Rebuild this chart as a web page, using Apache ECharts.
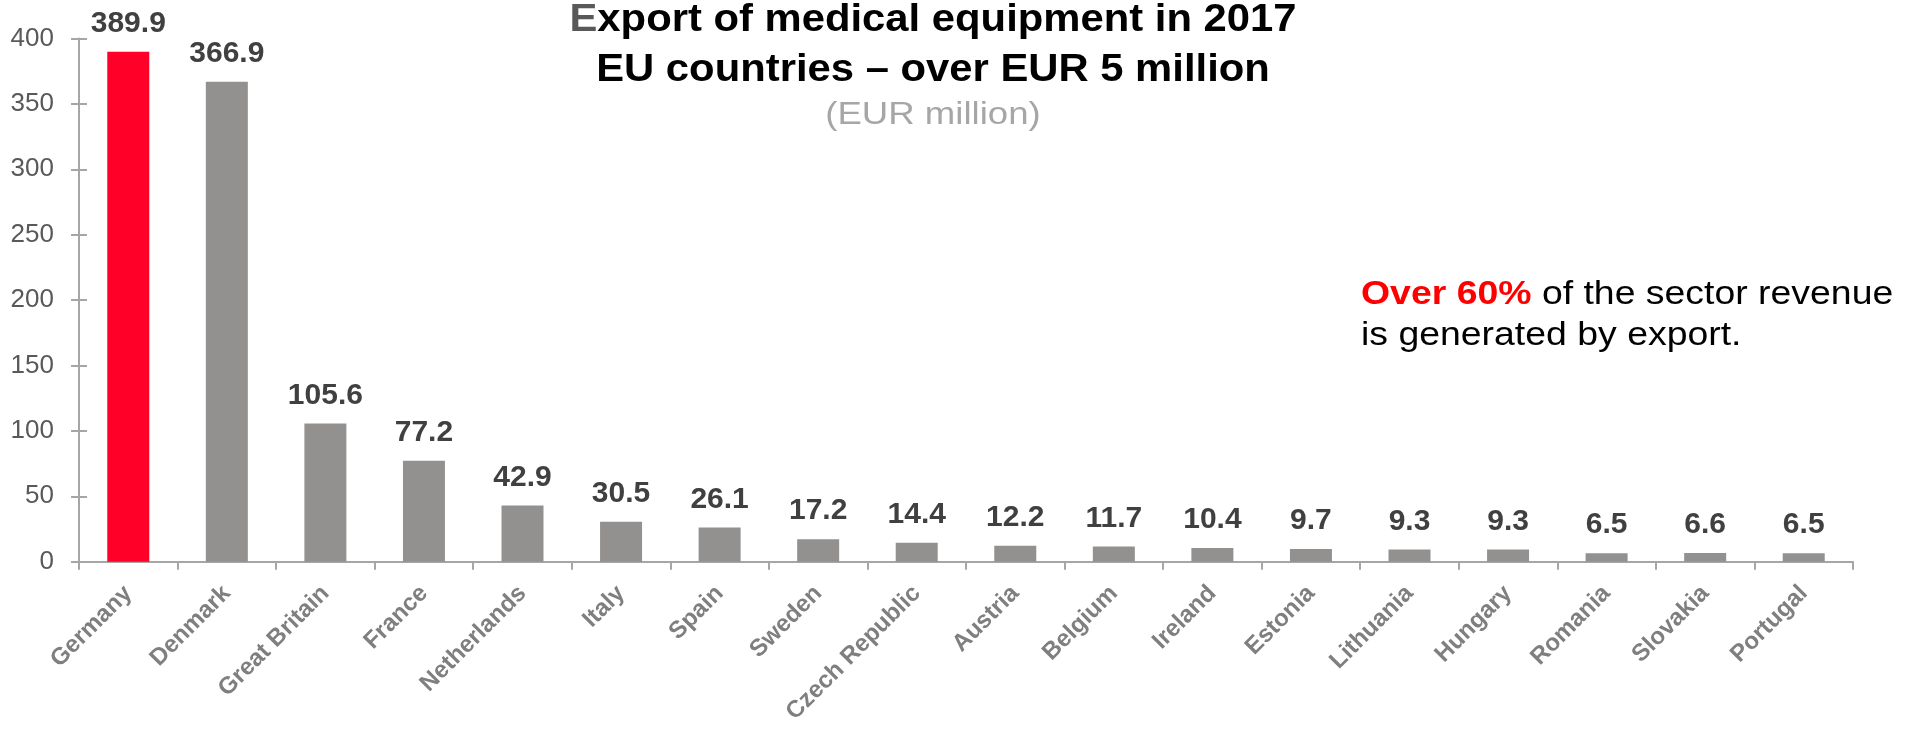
<!DOCTYPE html>
<html>
<head>
<meta charset="utf-8">
<script src="https://cdn.jsdelivr.net/npm/echarts@6/dist/echarts.min.js"></script>
<style>
  html, body { margin: 0; padding: 0; background: #ffffff; }
  #chart { width: 1911px; height: 735px; }
</style>
</head>
<body>
<div id="chart"></div>
<script>
// Export of medical equipment, EU countries, 2017 (EUR million)
const countries = [
  'Germany', 'Denmark', 'Great Britain', 'France', 'Netherlands', 'Italy',
  'Spain', 'Sweden', 'Czech Republic', 'Austria', 'Belgium', 'Ireland',
  'Estonia', 'Lithuania', 'Hungary', 'Romania', 'Slovakia', 'Portugal'
];
const exportValues = [
  389.9, 366.9, 105.6, 77.2, 42.9, 30.5,
  26.1, 17.2, 14.4, 12.2, 11.7, 10.4,
  9.7, 9.3, 9.3, 6.5, 6.6, 6.5
];
const highlightedCountry = 'Germany';
const yMin = 0;
const yMax = 400;
const yStep = 50;

const FONT = '"Liberation Sans", Arial, sans-serif';
const RED = '#FF0029';
const GREY_BAR = '#93918F';
const AXIS_GREY = '#A6A6A6';

const chart = echarts.init(document.getElementById('chart'), null, { renderer: 'canvas' });

const option = {
  backgroundColor: '#ffffff',
  animation: false,
  grid: { left: 79, right: 58, top: 38.5, bottom: 173.3, containLabel: false },
  xAxis: {
    type: 'category',
    data: countries,
    axisLine: { show: true, lineStyle: { color: AXIS_GREY, width: 2 } },
    axisTick: { show: true, length: 8, lineStyle: { color: AXIS_GREY, width: 2 } },
    axisLabel: {
      rotate: 45,
      interval: 0,
      margin: 28,
      color: '#7F7F7F',
      fontFamily: FONT,
      fontWeight: 'bold',
      fontSize: 24
    }
  },
  yAxis: [
    {
      type: 'value',
      min: yMin, max: yMax, interval: yStep,
      position: 'left',
      splitLine: { show: false },
      axisLine: { show: true, lineStyle: { color: AXIS_GREY, width: 2 } },
      axisTick: { show: true, length: 8, lineStyle: { color: AXIS_GREY, width: 2 } },
      axisLabel: { margin: 25, color: '#595959', fontFamily: FONT, fontSize: 26 }
    },
    {
      // inner half of the crossing tick marks
      type: 'value',
      min: yMin, max: yMax, interval: yStep,
      position: 'left',
      splitLine: { show: false },
      axisLine: { show: false },
      axisTick: { show: true, inside: true, length: 8, lineStyle: { color: AXIS_GREY, width: 2 } },
      axisLabel: { show: false }
    }
  ],
  series: [{
    type: 'bar',
    data: exportValues,
    barWidth: 42,
    itemStyle: {
      color: (p) => countries[p.dataIndex] === highlightedCountry ? RED : GREY_BAR
    },
    label: {
      show: true,
      position: 'top',
      distance: 13,
      formatter: (p) => p.value.toFixed(1),
      color: '#404040',
      fontFamily: FONT,
      fontWeight: 'bold',
      fontSize: 30
    }
  }],
  graphic: [
    {
      type: 'text', x: 933, y: 21, scaleX: 1.1,
      style: {
        text: '{g|E}{k|xport of medical equipment in 2017}',
        align: 'center', verticalAlign: 'middle',
        rich: {
          g: { fill: '#595959', fontFamily: FONT, fontWeight: 'bold', fontSize: 38 },
          k: { fill: '#000000', fontFamily: FONT, fontWeight: 'bold', fontSize: 38 }
        }
      }
    },
    {
      type: 'text', x: 933, y: 71, scaleX: 1.1,
      style: {
        text: 'EU countries – over EUR 5 million',
        fill: '#000000', fontFamily: FONT, fontWeight: 'bold', fontSize: 38,
        align: 'center', verticalAlign: 'middle'
      }
    },
    {
      type: 'text', x: 933, y: 115, scaleX: 1.18,
      style: {
        text: '(EUR million)',
        fill: '#A6A6A6', fontFamily: FONT, fontSize: 31,
        align: 'center', verticalAlign: 'middle'
      }
    },
    {
      type: 'text', x: 1361, y: 295, scaleX: 1.1,
      style: {
        text: '{r|Over 60%}{k| of the sector revenue}',
        align: 'left', verticalAlign: 'middle',
        rich: {
          r: { fill: '#FF0000', fontFamily: FONT, fontWeight: 'bold', fontSize: 34 },
          k: { fill: '#000000', fontFamily: FONT, fontSize: 34 }
        }
      }
    },
    {
      type: 'text', x: 1361, y: 336, scaleX: 1.1,
      style: {
        text: 'is generated by export.',
        fill: '#000000', fontFamily: FONT, fontSize: 34,
        align: 'left', verticalAlign: 'middle'
      }
    }
  ]
};

chart.setOption(option);
</script>
</body>
</html>
